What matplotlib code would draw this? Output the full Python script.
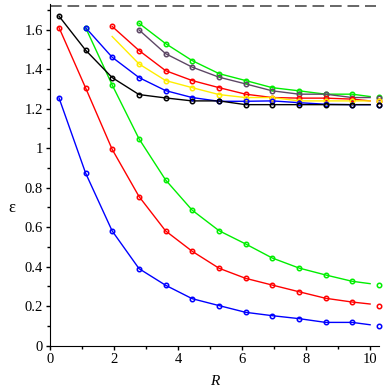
import matplotlib
matplotlib.use("Agg")
import matplotlib.pyplot as plt
from matplotlib.ticker import MultipleLocator

# R positions of the curve samples (last one is the line end at R=10)
R = [0.28, 1.11, 1.94, 2.78, 3.61, 4.44, 5.28, 6.11, 6.94, 7.78, 8.61, 9.44, 10.0]
R_end = 10.28   # lone marker right of each curve

# lower family
blue_low = [1.254, 0.874, 0.581, 0.390, 0.306, 0.238, 0.203, 0.169, 0.152, 0.137, 0.118, 0.118, 0.106]
red_low = [1.610, 1.305, 0.994, 0.755, 0.581, 0.478, 0.392, 0.341, 0.307, 0.273, 0.240, 0.221, 0.211]
green_low = [1.610, 1.320, 1.047, 0.839, 0.686, 0.582, 0.515, 0.444, 0.393, 0.358, 0.326, 0.314]
# upper family
black = [1.668, 1.496, 1.357, 1.271, 1.254, 1.239, 1.239, 1.220, 1.220, 1.220, 1.220, 1.220, 1.220]
blue_up = [1.610, 1.460, 1.357, 1.291, 1.256, 1.237, 1.237, 1.239, 1.230, 1.222, 1.220, 1.220]
red_up = [1.616, 1.494, 1.392, 1.342, 1.306, 1.273, 1.256, 1.253, 1.253, 1.248, 1.239]
yellow = [1.565, 1.426, 1.342, 1.306, 1.271, 1.256, 1.256, 1.239, 1.239, 1.239, 1.239]
green_up = [1.632, 1.529, 1.443, 1.377, 1.342, 1.306, 1.290, 1.273, 1.273, 1.261]
purple = [1.598, 1.478, 1.410, 1.359, 1.325, 1.290, 1.273, 1.273, 1.256, 1.256]
end_vals = {'blue_low': 0.100, 'red_low': 0.203, 'green_low': 0.306, 'black': 1.220,
            'blue_up': 1.220, 'red_up': 1.239, 'yellow': 1.239, 'green_up': 1.261,
            'purple': 1.256}
eps_top = 1.72

series = [
    # name, values, colour, marker on first point
    ('green_low', green_low, '#00ee00', True),
    ('red_low', red_low, '#ff0000', True),
    ('blue_low', blue_low, '#0000ff', True),
    ('green_up', green_up, '#00ee00', True),
    ('purple', purple, '#5e4866', True),
    ('red_up', red_up, '#ff0000', True),
    ('yellow', yellow, '#ffee00', False),
    ('blue_up', blue_up, '#0000ff', True),
    ('black', black, '#000000', True),
]

fig = plt.figure(figsize=(3.88, 3.88), dpi=100)
ax = fig.add_axes([0.129, 0.109, 0.848, 0.881])

for name, vals, col, first_mark in series:
    xs = R[len(R) - len(vals):]
    ax.plot(xs, vals, color=col, lw=1.0, zorder=2)
    mx = xs[:-1] if first_mark else xs[1:-1]
    my = vals[:-1] if first_mark else vals[1:-1]
    ax.plot(mx, my, ls='none', marker='o', ms=3.2, mfc='none', mec=col, mew=1.1, zorder=3)
    ax.plot([R_end], [end_vals[name]], ls='none', marker='o', ms=3.2, mfc='none',
            mec=col, mew=1.1, zorder=3, clip_on=False)

ax.axhline(eps_top, xmin=0, xmax=0.99, color='#666666', lw=1.4, dashes=(6, 3))

ax.set_xlim(0, R_end)
ax.set_ylim(0, 1.73)
for s in ['top', 'right']:
    ax.spines[s].set_visible(False)
ax.xaxis.set_major_locator(MultipleLocator(2))
ax.xaxis.set_minor_locator(MultipleLocator(1))
ax.yaxis.set_major_locator(MultipleLocator(0.2))
ax.yaxis.set_minor_locator(MultipleLocator(0.1))
ax.tick_params(which='both', direction='out', length=3, width=1, pad=2)
ax.tick_params(which='minor', length=2)
ax.set_yticks([0, 0.2, 0.4, 0.6, 0.8, 1, 1.2, 1.4, 1.6])
ax.set_yticklabels(['0', '0.2', '0.4', '0.6', '0.8', '1', '1.2', '1.4', '1.6'])
for lab in ax.get_xticklabels() + ax.get_yticklabels():
    lab.set_family('Liberation Serif')
    lab.set_fontsize(10.5)

ax.set_xlabel('R', fontstyle='italic', family='Liberation Serif', fontsize=11)
ax.xaxis.set_label_coords(0.5, -0.085)
ax.set_ylabel('ε', family='Liberation Serif', fontsize=12, rotation=0)
ax.yaxis.set_label_coords(-0.115, 0.38)

fig.savefig('out.png', dpi=100)
